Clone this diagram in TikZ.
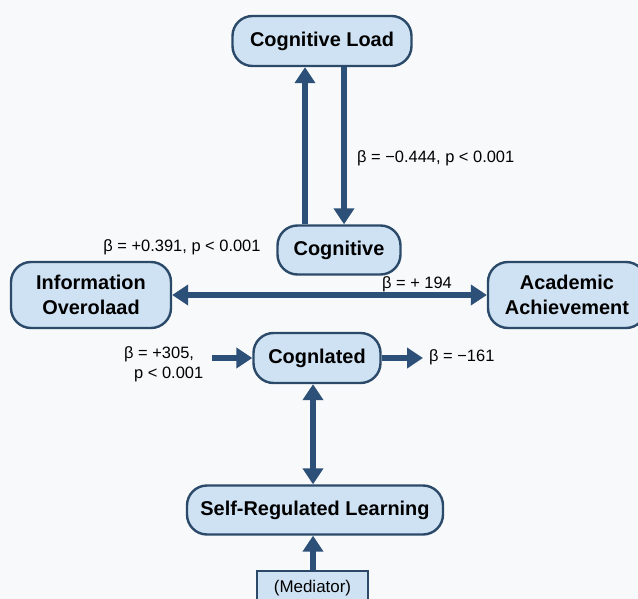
\documentclass[tikz,border=0pt]{standalone}
\usepackage{fontspec}
\setmainfont{Liberation Sans}
\usetikzlibrary{arrows.meta}
\definecolor{boxfill}{HTML}{CFE2F3}
\definecolor{boxdraw}{HTML}{2B4A6A}
\definecolor{arrcol}{HTML}{2C5078}
\definecolor{bg}{HTML}{F8F9FA}
\begin{document}
\begin{tikzpicture}[x=1bp,y=-1bp,
 box/.style={draw=boxdraw, fill=boxfill, line width=2.4bp, rounded corners=20bp, inner sep=0pt, align=center, font=\fontsize{20}{25}\selectfont\bfseries},
 medbox/.style={draw=boxdraw, fill=boxfill, line width=2.4bp, inner sep=0pt, font=\fontsize{17}{20}\selectfont},
 lbl/.style={inner sep=0pt, font=\fontsize{16.5}{20}\selectfont},
 arr/.style={draw=arrcol, line width=5.5bp, -{Triangle[width=20bp,length=16bp]}},
 darr/.style={draw=arrcol, line width=5.5bp, {Triangle[width=20bp,length=16bp]}-{Triangle[width=20bp,length=16bp]}}]
\fill[bg] (0,0) rectangle (638,599);
\useasboundingbox (0,0) rectangle (638,599);
\clip (0,0) rectangle (638,599);
% nodes
\node[box, minimum width=179bp, minimum height=50bp] (cl) at (322,41) {Cognitive Load};
\node[box, minimum width=123bp, minimum height=49bp] (cog) at (339,250) {Cognitive};
\node[box, minimum width=160bp, minimum height=66bp] (info) at (91,295) {Information\\Overolaad};
\node[box, minimum width=158bp, minimum height=66bp] (acad) at (567,295) {Academic\\Achievement};
\node[box, minimum width=127bp, minimum height=50bp] (cogl) at (317,358) {Cognlated};
\node[box, minimum width=256bp, minimum height=49bp] (srl) at (315,510) {Self-Regulated Learning};
\node[medbox, minimum width=111bp, minimum height=34bp] (med) at (312.5,588) {(Mediator)};
% helper coordinates
\coordinate (ux) at (305,0);
\coordinate (dx) at (344,0);
\coordinate (vx) at (313,0);
\coordinate (cin) at (212,358);
\coordinate (cout) at (423,358);
% connectors
\draw[arr] (ux |- cog.north) -- (ux |- cl.south);
\draw[arr] (dx |- cl.south) -- (dx |- cog.north);
\draw[darr] (info.east) -- (acad.west);
\draw[arr] (cin) -- (cogl.west);
\draw[arr] (cogl.east) -- (cout);
\draw[darr] (vx |- cogl.south) -- (vx |- srl.north);
\draw[arr] (vx |- med.north) -- (vx |- srl.south);
% labels
\node[lbl, anchor=west] (l1) at (357,158) {β = −0.444, p < 0.001};
\node[lbl] (l2) at (182,247) {β = +0.391, p < 0.001};
\node[lbl] (l3) at (417,284) {β = + 194};
\node[lbl, anchor=north west, align=left] (l4) at (124,346) {β = +305,\\\hspace*{10bp}p < 0.001};
\node[lbl, anchor=west] (l5) at (429,357) {β = −161};
\end{tikzpicture}
\end{document}
